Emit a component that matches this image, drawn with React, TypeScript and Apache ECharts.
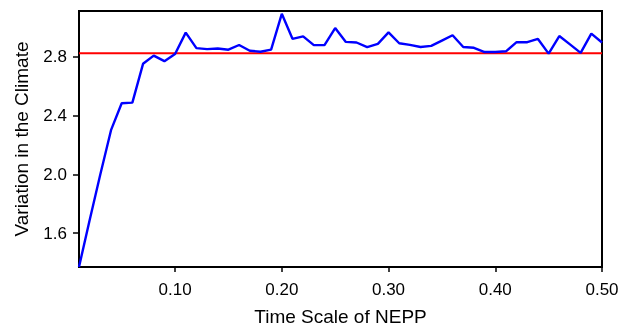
import React, { useEffect, useRef } from "react";
import * as echarts from "echarts";

const xValues = [
  0.01, 0.02, 0.03, 0.04, 0.05, 0.06, 0.07, 0.08, 0.09, 0.1,
  0.11, 0.12, 0.13, 0.14, 0.15, 0.16, 0.17, 0.18, 0.19, 0.2,
  0.21, 0.22, 0.23, 0.24, 0.25, 0.26, 0.27, 0.28, 0.29, 0.3,
  0.31, 0.32, 0.33, 0.34, 0.35, 0.36, 0.37, 0.38, 0.39, 0.4,
  0.41, 0.42, 0.43, 0.44, 0.45, 0.46, 0.47, 0.48, 0.49, 0.5,
];
const climateValues = [
  1.37, 1.69, 2.0, 2.3, 2.483, 2.487, 2.751, 2.807, 2.769, 2.818,
  2.963, 2.858, 2.851, 2.855, 2.847, 2.879, 2.84, 2.833, 2.847, 3.091,
  2.921, 2.938, 2.878, 2.878, 2.994, 2.9, 2.896, 2.865, 2.887, 2.965,
  2.891, 2.88, 2.865, 2.873, 2.909, 2.945, 2.865, 2.86, 2.831, 2.831,
  2.836, 2.898, 2.898, 2.92, 2.82, 2.94, 2.883, 2.825, 2.956, 2.896,
];
const referenceLevel = 2.823;
const xTicks = [0.1, 0.2, 0.3, 0.4, 0.5];
const yTicks = [1.6, 2.0, 2.4, 2.8];

export default function App() {
  const ref = useRef<HTMLDivElement>(null);
  useEffect(() => {
    if (!ref.current) return;
    const chart = echarts.init(ref.current, null, { renderer: "svg" });
    const font = "'Liberation Sans', Arial, Helvetica, sans-serif";
    chart.setOption({
      animation: false,
      grid: {
        left: 79,
        right: 26,
        top: 11,
        bottom: 59,
        show: true,
        borderColor: "#000",
        borderWidth: 2,
        backgroundColor: "transparent",
      },
      xAxis: {
        type: "value",
        min: 0.01,
        max: 0.5,
        name: "Time Scale of NEPP",
        nameLocation: "middle",
        nameGap: 40,
        nameTextStyle: { color: "#000", fontSize: 19, fontFamily: font },
        axisLine: { show: true, lineStyle: { color: "#000", width: 2 } },
        axisTick: {
          show: true,
          length: 5,
          customValues: xTicks,
          lineStyle: { color: "#000", width: 1.5 },
        },
        axisLabel: {
          customValues: xTicks,
          formatter: (v: number) => v.toFixed(2),
          color: "#000",
          fontSize: 17,
          fontFamily: font,
          margin: 14,
        },
        splitLine: { show: false },
      },
      yAxis: {
        type: "value",
        min: 1.37,
        max: 3.11,
        name: "Variation in the Climate",
        nameLocation: "middle",
        nameGap: 48,
        nameTextStyle: { color: "#000", fontSize: 19, fontFamily: font },
        axisLine: { show: true, lineStyle: { color: "#000", width: 2 } },
        axisTick: {
          show: true,
          length: 6,
          customValues: yTicks,
          lineStyle: { color: "#000", width: 1.5 },
        },
        axisLabel: {
          customValues: yTicks,
          formatter: (v: number) => v.toFixed(1),
          color: "#000",
          fontSize: 17,
          fontFamily: font,
          margin: 12,
        },
        splitLine: { show: false },
      },
      series: [
        {
          type: "line",
          data: [
            [xValues[0], referenceLevel],
            [xValues[xValues.length - 1], referenceLevel],
          ],
          symbol: "none",
          lineStyle: { color: "#ff0000", width: 2.2 },
          z: 2,
        },
        {
          type: "line",
          data: xValues.map((x, i) => [x, climateValues[i]]),
          symbol: "none",
          lineStyle: { color: "#0000ff", width: 2.4 },
          z: 3,
        },
      ],
    });
    return () => chart.dispose();
  }, []);
  return (
    <div
      ref={ref}
      style={{ position: "fixed", left: 0, top: 0, width: 628, height: 331 }}
    />
  );
}
